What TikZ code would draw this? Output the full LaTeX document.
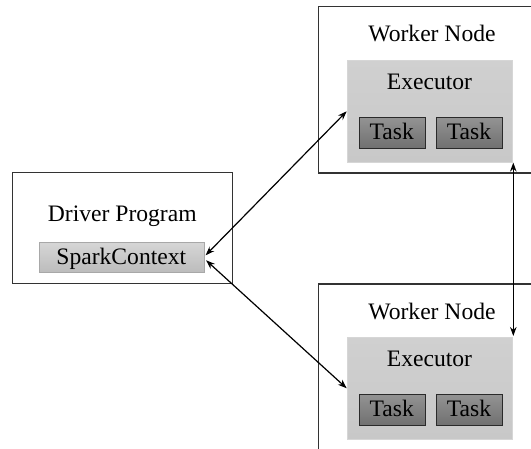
\documentclass[tikz,border=0pt]{standalone}
\usepackage{fontspec}
\setmainfont{Liberation Serif}
\usetikzlibrary{arrows.meta}
\definecolor{edge}{HTML}{333333}
\definecolor{exectop}{HTML}{D0D0D0}
\definecolor{execbot}{HTML}{C8C8C8}
\definecolor{execline}{HTML}{D6D6D6}
\definecolor{tasktop}{HTML}{939393}
\definecolor{taskbot}{HTML}{707070}
\definecolor{taskline}{HTML}{2A2A2A}
\definecolor{sctop}{HTML}{D6D6D6}
\definecolor{scbot}{HTML}{BCBCBC}
\definecolor{scline}{HTML}{A8A8A8}
\begin{document}
\begin{tikzpicture}[x=1pt,y=-1pt,
  every node/.style={font=\fontsize{23.6}{27}\selectfont, text=black, inner sep=0pt},
  outerbox/.style={draw=edge, line width=1.2pt, fill=white, anchor=north west},
  execbox/.style={draw=execline, line width=0.6pt, top color=exectop, bottom color=execbot, anchor=north west},
  taskbox/.style={draw=taskline, line width=0.8pt, top color=tasktop, bottom color=taskbot, anchor=north west},
  scbox/.style={draw=scline, line width=0.6pt, top color=sctop, bottom color=scbot, anchor=north west},
  label/.style={anchor=base},
  link/.style={line width=1.2pt, draw=black, {Stealth[length=9pt,width=6.5pt]}-{Stealth[length=9pt,width=6.5pt]}}
]
\useasboundingbox (0,0) rectangle (531,449);
\clip (0,0) rectangle (531,449);
% top worker
\node[outerbox, minimum width=222pt, minimum height=166.5pt] (w1) at (318,6) {};
\node[label] (w1t) at (432,41.5) {Worker Node};
\node[execbox, minimum width=165.5pt, minimum height=102pt] (ex1) at (346.7,60) {};
\node[label] (ex1t) at (429.5,90) {Executor};
\node[taskbox, minimum width=65.5pt, minimum height=31pt] (t11) at (359,117) {};
\node[label] (t11t) at (391.8,139.5) {Task};
\node[taskbox, minimum width=66pt, minimum height=31pt] (t12) at (436,117) {};
\node[label] (t12t) at (469,139.5) {Task};
% bottom worker
\node[outerbox, minimum width=222pt, minimum height=180pt] (w2) at (318,283.5) {};
\node[label] (w2t) at (432,319.5) {Worker Node};
\node[execbox, minimum width=165.5pt, minimum height=102pt] (ex2) at (346.7,337) {};
\node[label] (ex2t) at (429.5,367) {Executor};
\node[taskbox, minimum width=65.5pt, minimum height=31pt] (t21) at (359,394) {};
\node[label] (t21t) at (391.8,416.5) {Task};
\node[taskbox, minimum width=66pt, minimum height=31pt] (t22) at (436,394) {};
\node[label] (t22t) at (469,416.5) {Task};
% driver
\node[outerbox, line width=1pt, minimum width=220pt, minimum height=110.5pt] (drv) at (12,172.5) {};
\node[label] (drvt) at (122.3,221.7) {Driver Program};
\node[scbox, minimum width=165pt, minimum height=30pt] (sc) at (39,242) {};
\node[label] (sct) at (121.3,265) {SparkContext};
% connectors
\draw[link] ([yshift=2pt,xshift=1pt]sc.east) -- (ex1.west);
\draw[link] ([yshift=-3pt,xshift=1.5pt]sc.east) -- (ex2.west);
\draw[link] ([xshift=0.5pt]ex1.south east) -- ([xshift=0.5pt,yshift=1pt]ex2.north east);
\end{tikzpicture}
\end{document}
